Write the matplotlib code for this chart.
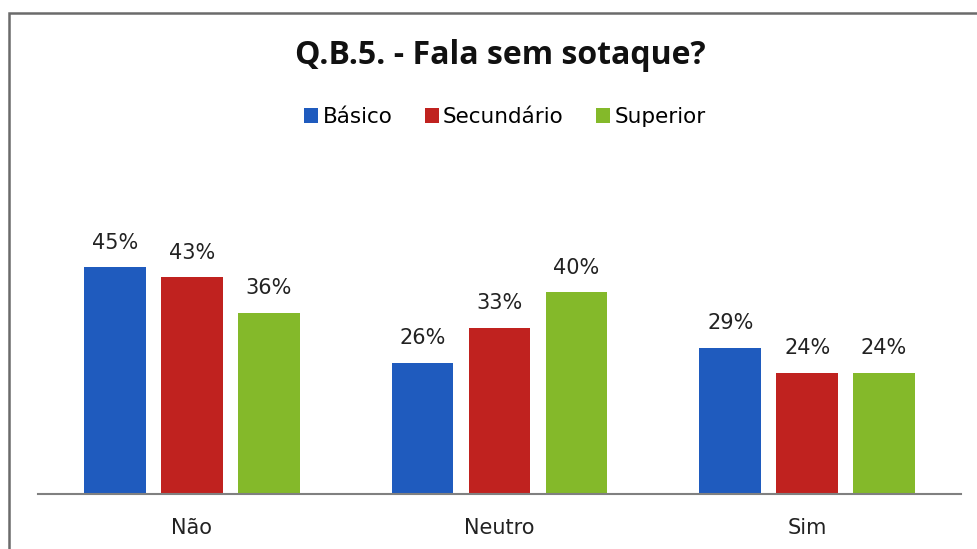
import matplotlib
matplotlib.use("Agg")
import matplotlib.pyplot as plt
import numpy as np
from matplotlib.patches import Rectangle

categories = ["Não", "Neutro", "Sim"]
series_names = ["Básico", "Secundário", "Superior"]
basico = [45, 26, 29]
secundario = [43, 33, 24]
superior = [36, 40, 24]
colors = ["#1F5BBE", "#C0221F", "#84B92A"]

plt.rcParams['font.family'] = ['DejaVu Sans']

W, H = 977, 549
fig = plt.figure(figsize=(W / 100, H / 100), dpi=100)

# outer chart frame (cut off on the right and bottom)
fig.add_artist(Rectangle((9 / W, -0.05), 1.1, (H - 13) / H + 0.05,
                         transform=fig.transFigure, fill=False,
                         edgecolor="#6b6b6b", linewidth=1.8))

ax = fig.add_axes([38 / W, (H - 494) / H, (961 - 38) / W, 252 / H])

x = np.arange(len(categories))
width = 0.2
offsets = [-0.25, 0, 0.25]
for vals, name, col, off in zip([basico, secundario, superior], series_names, colors, offsets):
    bars = ax.bar(x + off, vals, width, color=col, label=name)
    for b, v in zip(bars, vals):
        ax.text(b.get_x() + b.get_width() / 2, v + 4.9, f"{v}%",
                ha="center", va="center", fontsize=15, color="#222222")

ax.set_xlim(-0.5, 2.5)
ax.set_ylim(0, 50)
ax.set_yticks([])
ax.set_xticks(x)
ax.set_xticklabels(categories, fontsize=15, color="#222222")
ax.tick_params(axis="x", length=0, pad=17)
for s in ["top", "right", "left"]:
    ax.spines[s].set_visible(False)
ax.spines["bottom"].set_color("#808080")
ax.spines["bottom"].set_linewidth(1.5)

fig.text(500 / W, 1 - 55 / H, "Q.B.5. - Fala sem sotaque?", ha="center", va="center",
         fontsize=23, fontweight="bold", color="#111111", family="Open Sans")

handles, labels = ax.get_legend_handles_labels()
fig.legend(handles, labels, loc="center", bbox_to_anchor=(505 / W, 1 - 117 / H),
           ncol=3, frameon=False, fontsize=15.5, handlelength=0.65, handleheight=0.65,
           handletextpad=0.2, columnspacing=1.5)

fig.savefig("out.png", dpi=100)
